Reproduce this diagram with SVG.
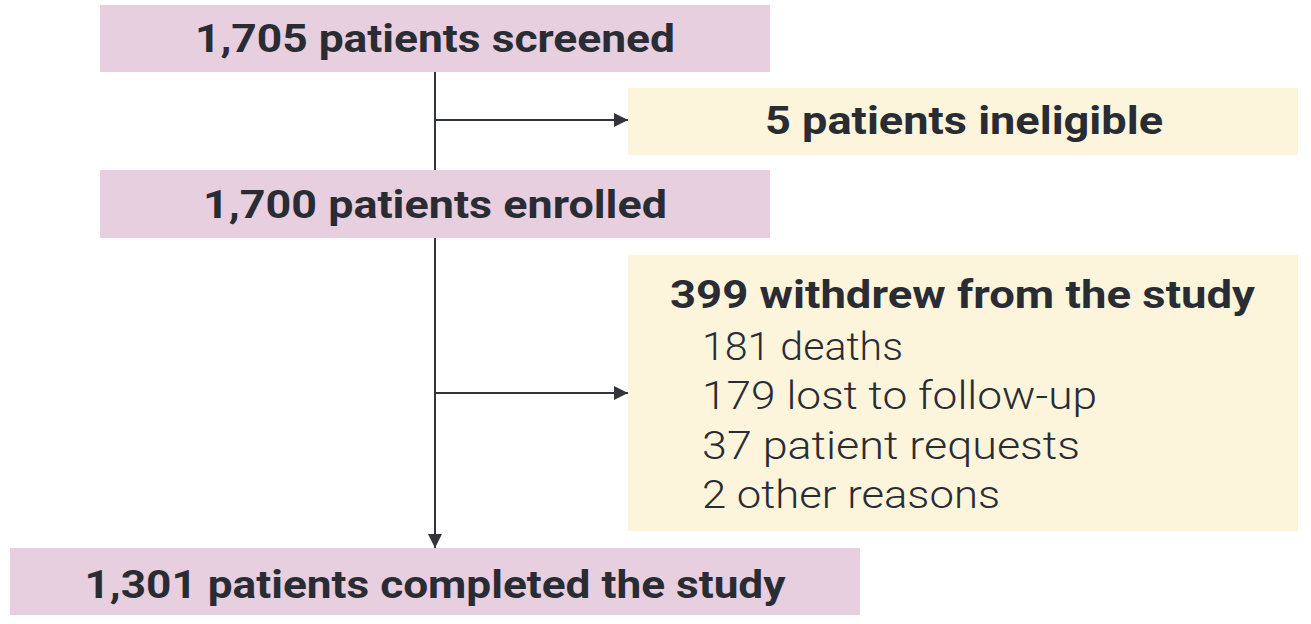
<svg xmlns="http://www.w3.org/2000/svg" width="1311" height="624" viewBox="0 0 1311 624">
<style>
.pink{fill:#e7cfe0}
.yel{fill:#fcf5dc}
text{font-family:Roboto,"Liberation Sans",sans-serif;fill:#2a2c33;font-size:38px}
.b{font-weight:bold}
.r{font-weight:300}
.c{text-anchor:middle}
.ln{stroke:#33353b;stroke-width:2;fill:none}
</style>
<defs>
<marker id="ahd" markerWidth="16" markerHeight="16" refX="14" refY="7" orient="auto" markerUnits="userSpaceOnUse">
<path d="M0,0 L14,7 L0,14 Z" fill="#33353b"/>
</marker>
</defs>
<g id="connectors">
<line class="ln" x1="435" y1="72" x2="435" y2="170"/>
<line class="ln" x1="435" y1="120" x2="628" y2="120" marker-end="url(#ahd)"/>
<line class="ln" x1="435" y1="238" x2="435" y2="548" marker-end="url(#ahd)"/>
<line class="ln" x1="435" y1="393" x2="628" y2="393" marker-end="url(#ahd)"/>
</g>
<g id="screened">
<rect class="pink" x="100" y="5" width="670" height="67"/>
<text class="b c" x="435" y="52" textLength="480" lengthAdjust="spacingAndGlyphs">1,705 patients screened</text>
</g>
<g id="ineligible">
<rect class="yel" x="628" y="88" width="670" height="67"/>
<text class="b c" x="964" y="134" textLength="398" lengthAdjust="spacingAndGlyphs">5 patients ineligible</text>
</g>
<g id="enrolled">
<rect class="pink" x="100" y="170" width="670" height="68"/>
<text class="b c" x="435" y="218" textLength="464" lengthAdjust="spacingAndGlyphs">1,700 patients enrolled</text>
</g>
<g id="withdrew">
<rect class="yel" x="628" y="255" width="670" height="276"/>
<text class="b" x="670" y="308" textLength="585" lengthAdjust="spacingAndGlyphs">399 withdrew from the study</text>
<text class="r" x="702" y="360" textLength="201" lengthAdjust="spacingAndGlyphs">181 deaths</text>
<text class="r" x="702" y="409" textLength="395" lengthAdjust="spacingAndGlyphs">179 lost to follow-up</text>
<text class="r" x="702" y="459" textLength="378" lengthAdjust="spacingAndGlyphs">37 patient requests</text>
<text class="r" x="702" y="508" textLength="298" lengthAdjust="spacingAndGlyphs">2 other reasons</text>
</g>
<g id="completed">
<rect class="pink" x="10" y="548" width="850" height="67"/>
<text class="b c" x="435" y="598" textLength="701" lengthAdjust="spacingAndGlyphs">1,301 patients completed the study</text>
</g>
</svg>
